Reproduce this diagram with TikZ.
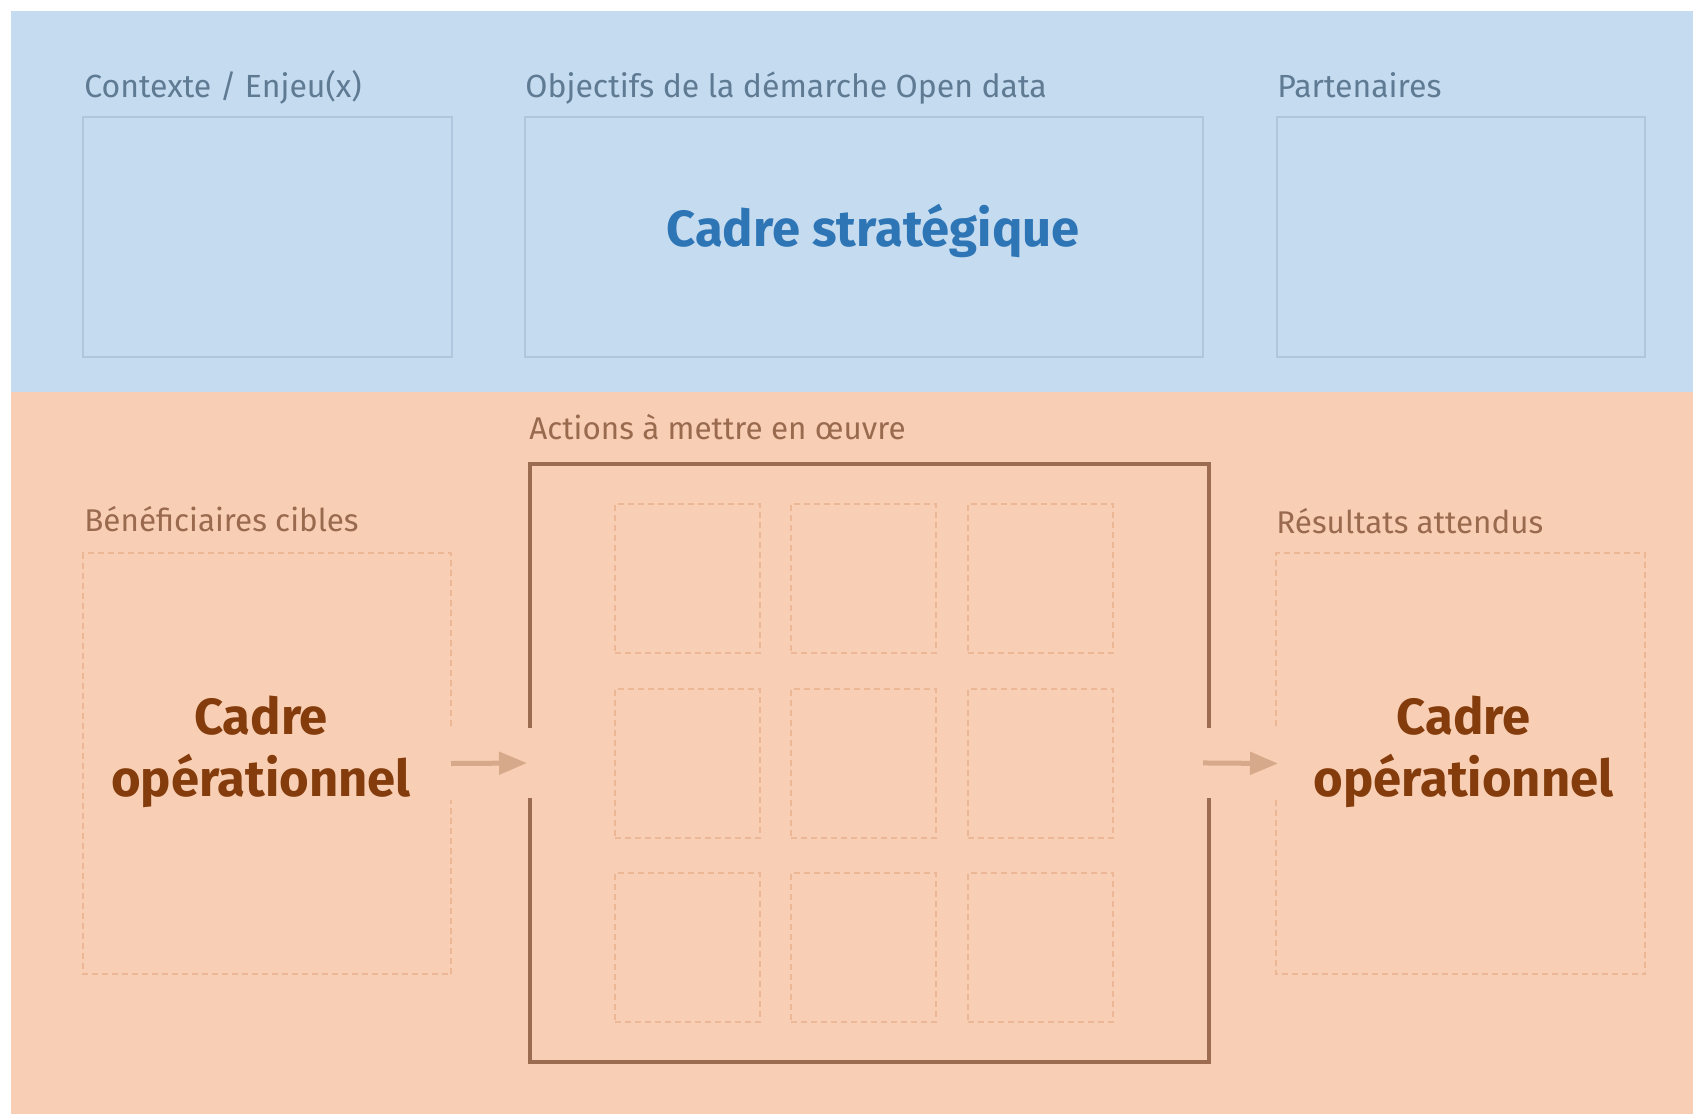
\documentclass[tikz,border=0pt]{standalone}
\usepackage{fontspec}
\setmainfont{Fira Sans}
\usetikzlibrary{arrows.meta}
\definecolor{bandblue}{HTML}{C5DBF0}
\definecolor{bandorange}{HTML}{F8CFB4}
\definecolor{boxblue}{HTML}{AFC7DE}
\definecolor{labelblue}{HTML}{5F7A93}
\definecolor{titleblue}{HTML}{2E75B6}
\definecolor{labelbrown}{HTML}{9A6A4F}
\definecolor{framebrown}{HTML}{9C6C50}
\definecolor{dashbrown}{HTML}{EBB797}
\definecolor{arrowtan}{HTML}{D6A98B}
\definecolor{titlebrown}{HTML}{843C0C}
\tikzset{
  topbox/.style={draw=boxblue,line width=1pt,inner sep=0pt,outer sep=0pt,minimum height=120pt},
  area/.style={inner sep=0pt,outer sep=0pt},
  cell/.style={draw=dashbrown,line width=1pt,dash pattern=on 3pt off 2pt,inner sep=0pt,outer sep=0pt,minimum width=72.5pt,minimum height=74.5pt},
  dashline/.style={draw=dashbrown,line width=1pt,dash pattern=on 3pt off 2pt},
  frameline/.style={draw=framebrown,line width=1.75pt,line join=miter},
  flow/.style={draw=arrowtan,line width=2.5pt,-{Triangle[length=14pt,width=11pt]}},
  toplabel/.style={anchor=base west,inner sep=0pt,text=labelblue,font=\fontsize{16}{19}\selectfont},
  botlabel/.style={anchor=base west,inner sep=0pt,text=labelbrown,font=\fontsize{15.7}{19}\selectfont},
  titlestrat/.style={text=titleblue,font=\fontsize{25.4}{31}\selectfont\bfseries,inner sep=0pt},
  titleop/.style={text=titlebrown,font=\fontsize{25.4}{31}\selectfont\bfseries,align=center,inner sep=0pt}
}
\begin{document}
\begin{tikzpicture}[x=0.5pt,y=-0.5pt]
\useasboundingbox (0,0) rectangle (1693,1114);
\fill[white] (0,0) rectangle (1693,1114);
% bands
\fill[bandblue] (11,11) rectangle (1693,392);
\fill[bandorange] (11,392) rectangle (1693,1114);

% strategic frame
\node[topbox,minimum width=184.5pt] (ctx) at (267.5,237) {};
\node[topbox,minimum width=339pt] (obj) at (864,237) {};
\node[topbox,minimum width=184pt] (part) at (1461,237) {};
\node[toplabel] (ctxlab) at (84,97) {Contexte / Enjeu(x)};
\node[toplabel] (objlab) at (525,97) {Objectifs de la démarche Open data};
\node[toplabel] (partlab) at (1277,97) {Partenaires};
\node[titlestrat] (strat) at ([xshift=4.5pt,yshift=3pt]obj.center) {Cadre stratégique};

% operational frame
\node[area,minimum width=184pt,minimum height=210.5pt] (benef) at (267,763.5) {};
\node[area,minimum width=339.5pt,minimum height=299pt] (actions) at (869.5,763) {};
\node[area,minimum width=184.5pt,minimum height=210.5pt] (res) at (1460.5,763.5) {};

\node[botlabel] (beneflab) at (84,531) {Bénéficiaires cibles};
\node[botlabel] (actlab) at (529,439) {Actions à mettre en œuvre};
\node[botlabel] (reslab) at (1276,533) {Résultats attendus};

% dashed boxes with a gap facing the arrow
\draw[dashline] ([yshift=19pt]benef.east) -- (benef.north east) -- (benef.north west)
  -- (benef.south west) -- (benef.south east) -- ([yshift=-18pt]benef.east);
\draw[dashline] ([yshift=19pt]res.west) -- (res.north west) -- (res.north east)
  -- (res.south east) -- (res.south west) -- ([yshift=-18pt]res.west);

% action frame with gaps
\draw[frameline] ([yshift=17.5pt]actions.west) -- (actions.north west) -- (actions.north east) -- ([yshift=17.5pt]actions.east);
\draw[frameline] ([yshift=-17.5pt]actions.west) -- (actions.south west) -- (actions.south east) -- ([yshift=-17.5pt]actions.east);

% grid of actions
\foreach \c/\x in {1/687.5,2/863.5,3/1040}{
  \foreach \r/\y in {1/578.5,2/763,3/947.5}{
    \node[cell] (g\r\c) at (\x,\y) {};
  }
}

% arrows
\draw[flow,shorten >=1.5pt] (benef.east) -- (actions.west);
\draw[flow,shorten <=-3pt,shorten >=-1pt] (actions.east) -- (res.west);

\node[titleop] (opl) at ([xshift=-3pt,yshift=6pt]benef.center) {Cadre\\opérationnel};
\node[titleop] (opr) at ([xshift=1.5pt,yshift=6pt]res.center) {Cadre\\opérationnel};
\end{tikzpicture}
\end{document}
